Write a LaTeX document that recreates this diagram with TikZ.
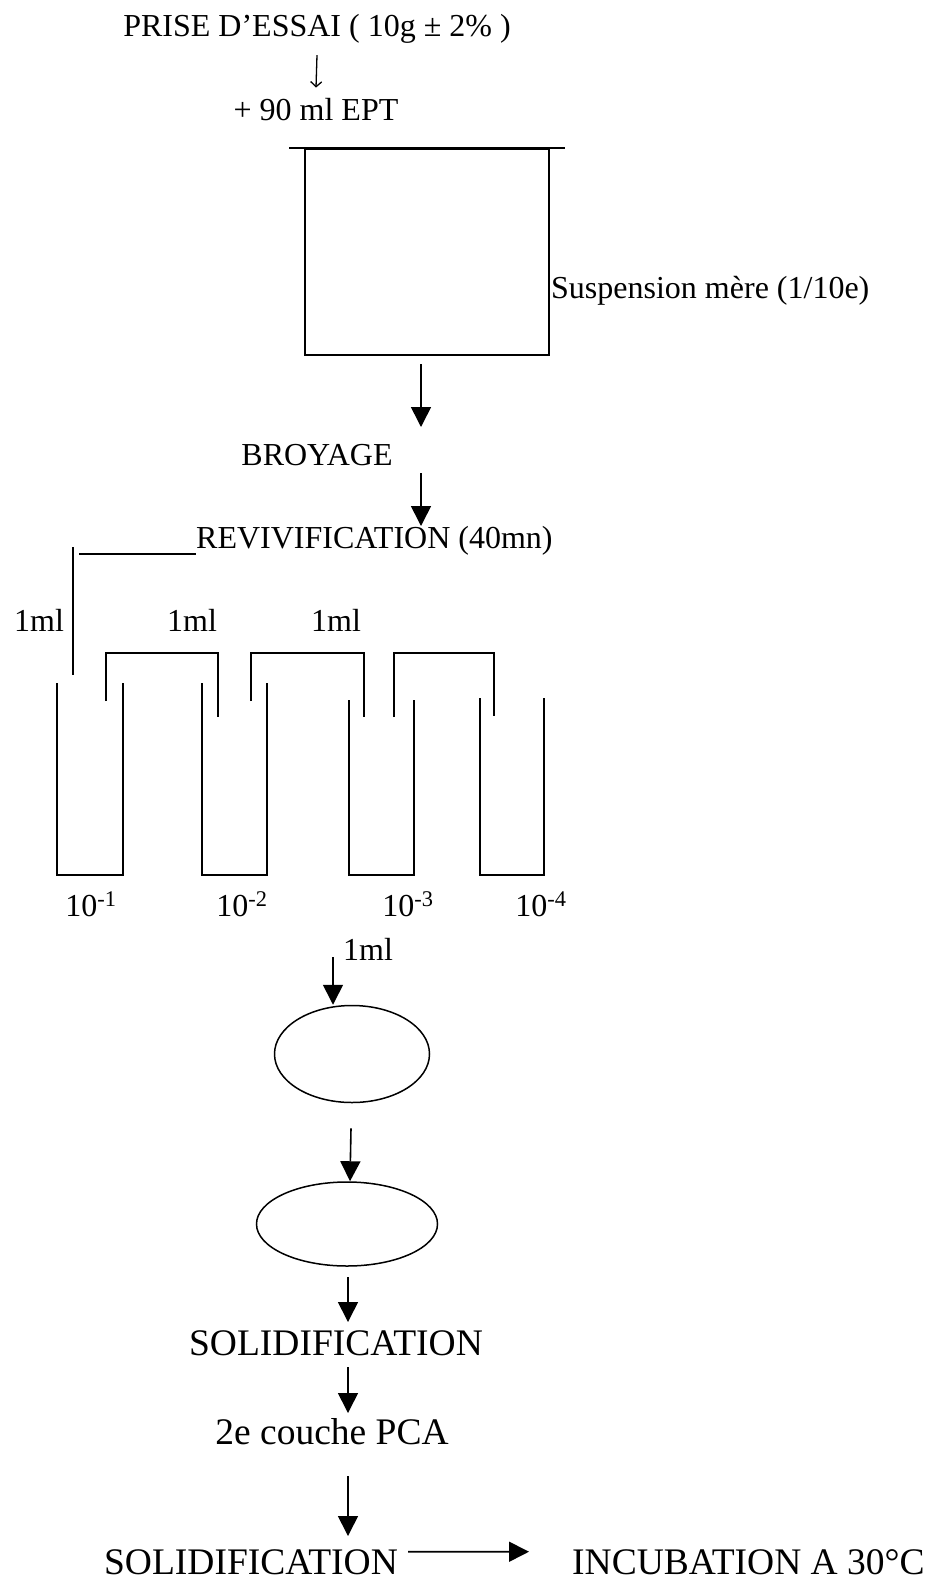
\documentclass[tikz,border=0pt]{standalone}
\usepackage{fontspec}
\setmainfont{Liberation Serif}
\usetikzlibrary{arrows.meta,shapes.geometric}

\begin{document}
\begin{tikzpicture}[
    x=1pt, y=-1pt,
    txt/.style={inner sep=0, anchor=base, font=\fontsize{32}{36}\selectfont},
    bigtxt/.style={inner sep=0, anchor=base, font=\fontsize{37.5}{40}\selectfont},
    flow/.style={-{Triangle[length=20pt,width=20pt]}, line width=1.6pt},
    thinflow/.style={-{Straight Barb[length=5pt,width=11pt]}, line width=1.3pt},
    tube/.style={line width=1.5pt},
    dish/.style={ellipse, draw, line width=1.5pt, inner sep=0}
]
    \useasboundingbox (0,0) rectangle (939,1580);

    % Sample and diluent
    \node[txt] (prise) at (317,36) {PRISE D’ESSAI ( 10g ± 2\% )};
    \node[txt] (ept) at (316,120) {+ 90 ml EPT};
    \draw[thinflow] ([yshift=-12]prise.south) -- ([yshift=10]ept.north);

    % Stock suspension
    \node[draw, line width=1.6pt, minimum width=244, minimum height=206, inner sep=0] (mere) at (427,252) {};
    \draw[line width=1.6pt] ([xshift=-15]mere.north west) -- ([xshift=15]mere.north east);
    \node[txt, anchor=base west] (lblmere) at (551,298) {Suspension mère (1/10e)};

    % Grinding and revivification
    \node[txt] (broyage) at (317,465) {BROYAGE};
    \node[txt, anchor=base west] (revi) at (196,548) {REVIVIFICATION (40mn)};
    \coordinate (a1) at (421,364);
    \coordinate (a2) at (421,427);
    \coordinate (a3) at (421,473);
    \coordinate (a4) at (421,526);
    \draw[flow] (a1) -- (a2);
    \draw[flow] (a3) -- (a4);

    % First transfer
    \coordinate (p0) at (79,554);
    \draw[tube] (p0) -- ([yshift=-6]revi.base west);
    \draw[tube] (73,547) -- (73,675);
    \node[txt] (ml1) at (39,631) {1ml};
    \node[txt] (ml2) at (192,631) {1ml};
    \node[txt] (ml3) at (336,631) {1ml};

    % Dilution tubes
    \foreach \l/\r/\t/\n/\lx in {57/123/683/1/91, 202/267/683/2/242, 349/414/700/3/408, 480/544/698/4/541} {
        \draw[tube] (\l,\t) -- (\l,875) -- (\r,875) -- (\r,\t);
        \node[txt] (dil\n) at (\lx,916) {10\textsuperscript{-\n}};
    }

    % Transfers between tubes
    \draw[tube] (106,701) -- (106,653) -- (218,653) -- (218,717);
    \draw[tube] (251,701) -- (251,653) -- (364,653) -- (364,717);
    \draw[tube] (394,717) -- (394,653) -- (494,653) -- (494,716);

    % Plating
    \node[txt] (ml4) at (368,960) {1ml};
    \node[dish, minimum width=155, minimum height=97] (ell1) at (352,1054) {};
    \node[dish, minimum width=181, minimum height=84] (ell2) at (347,1224) {};
    \coordinate (a5) at (333,957);
    \draw[flow] (a5) -- (a5 |- ell1.north);
    \draw[flow] ([xshift=-1,yshift=-25]ell1.south) -- ([xshift=3]ell2.north);

    % Solidification and second layer
    \node[bigtxt] (solid1) at (336,1355) {SOLIDIFICATION};
    \node[bigtxt] (couche) at (332,1444) {2e couche PCA};
    \node[bigtxt] (solid2) at (251,1574) {SOLIDIFICATION};
    \node[bigtxt, anchor=base west] (incub) at (572,1574) {INCUBATION A 30°C};
    \coordinate (a6) at (348,1277);
    \coordinate (a7) at (348,1322);
    \coordinate (a8) at (348,1367);
    \coordinate (a9) at (348,1413);
    \coordinate (a10) at (348,1476);
    \coordinate (a11) at (348,1536);
    \draw[flow] (a6) -- (a7);
    \draw[flow] (a8) -- (a9);
    \draw[flow] (a10) -- (a11);
    \draw[flow] ([xshift=10,yshift=10]solid2.east) -- ([xshift=-43,yshift=10]incub.west);
\end{tikzpicture}
\end{document}
